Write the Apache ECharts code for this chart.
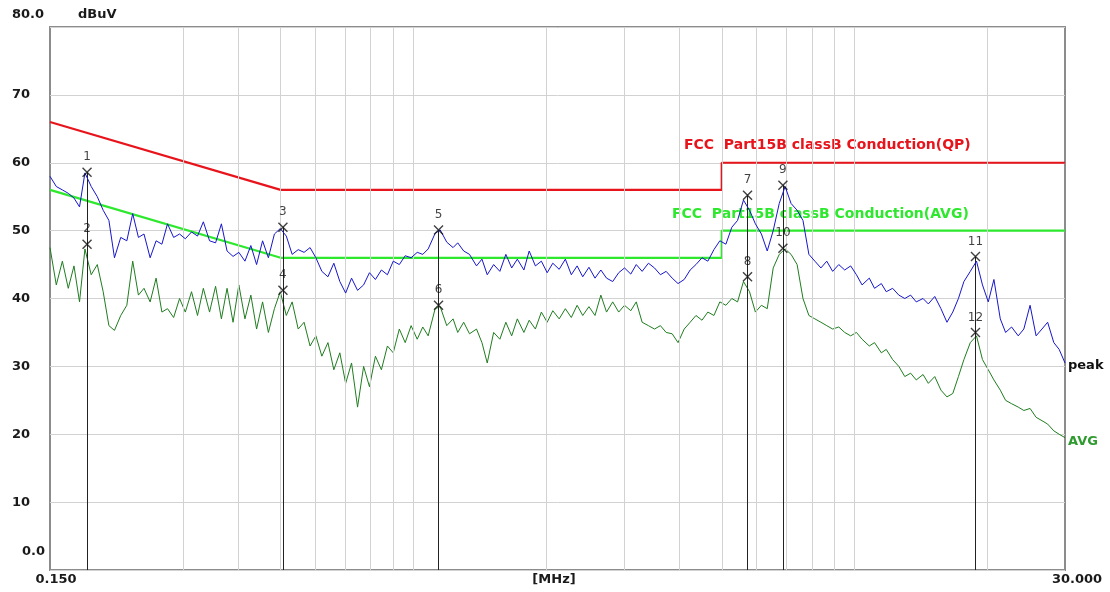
<!DOCTYPE html>
<html>
<head>
<meta charset="utf-8">
<script src="https://cdn.jsdelivr.net/npm/echarts@6/dist/echarts.min.js"></script>
<style>html,body{margin:0;padding:0;background:#fff;}#c{width:1110px;height:592px;}</style>
</head>
<body>
<div id="c"></div>
<script>
// ---- data ----
const freqs = [0.150,0.155,0.160,0.165,0.170,0.175,0.180,0.186,0.192,0.198,0.204,0.210,0.217,0.224,0.231,0.238,0.245,0.253,0.261,0.269,0.277,0.286,0.295,0.304,0.314,0.324,0.334,0.345,0.356,0.367,0.378,0.390,0.402,0.415,0.428,0.441,0.455,0.469,0.484,0.499,0.515,0.531,0.548,0.565,0.583,0.601,0.620,0.640,0.660,0.681,0.702,0.724,0.747,0.771,0.795,0.820,0.846,0.873,0.900,0.929,0.958,0.988,1.02,1.05,1.08,1.12,1.15,1.19,1.23,1.26,1.30,1.34,1.39,1.43,1.47,1.52,1.57,1.62,1.67,1.72,1.78,1.83,1.89,1.95,2.01,2.07,2.14,2.21,2.28,2.35,2.42,2.50,2.58,2.66,2.74,2.83,2.92,3.01,3.11,3.20,3.30,3.41,3.52,3.63,3.74,3.86,3.98,4.11,4.24,4.37,4.51,4.65,4.80,4.95,5.11,5.27,5.43,5.60,5.78,5.96,6.15,6.34,6.54,6.75,6.96,7.18,7.41,7.64,7.88,8.13,8.39,8.65,8.92,9.21,9.50,9.80,10.1,10.4,10.8,11.1,11.5,11.8,12.2,12.6,13.0,13.4,13.8,14.3,14.7,15.2,15.7,16.2,16.7,17.2,17.7,18.3,18.9,19.5,20.1,20.7,21.4,22.0,22.7,23.5,24.2,25.0,25.8,26.6,27.4,28.3,29.1,30.0];

const peakVals = [58.0,56.5,56.0,55.5,54.8,53.5,58.5,56.5,55.0,53.0,51.5,46.0,49.0,48.5,52.5,49.0,49.5,46.0,48.5,48.0,51.0,49.0,49.5,48.8,49.8,49.2,51.3,48.5,48.2,51.0,47.0,46.2,46.8,45.5,47.8,45.0,48.5,46.0,49.5,50.3,49.2,46.5,47.2,46.8,47.5,46.0,44.0,43.2,45.2,42.5,40.8,43.0,41.2,42.0,43.8,42.8,44.2,43.5,45.5,45.0,46.3,46.0,46.8,46.5,47.3,49.6,50.1,48.3,47.5,48.2,47.0,46.5,44.8,45.8,43.5,45.0,44.0,46.5,44.5,45.8,44.2,47.0,44.8,45.5,43.8,45.2,44.3,45.8,43.5,44.8,43.2,44.6,43.0,44.2,43.0,42.5,43.8,44.5,43.6,45.0,44.0,45.2,44.5,43.5,44.0,43.0,42.2,42.8,44.2,45.0,46.0,45.5,47.2,48.5,48.0,50.5,51.5,54.5,53.0,51.0,49.5,47.0,50.0,54.0,56.5,54.0,53.0,51.5,46.5,45.5,44.5,45.5,44.0,45.0,44.2,44.8,43.5,42.0,43.0,41.5,42.2,41.0,41.5,40.5,40.0,40.5,39.5,40.0,39.2,40.3,38.5,36.5,38.0,40.0,42.5,44.0,45.5,42.0,39.5,42.8,37.0,35.0,35.8,34.5,35.5,39.0,34.5,35.5,36.5,33.5,32.5,30.5];

const avgVals = [47.5,42.0,45.5,41.5,44.8,39.5,47.3,43.5,45.0,41.0,36.0,35.3,37.5,39.0,45.5,40.5,41.5,39.5,43.0,38.0,38.5,37.2,40.0,38.0,41.0,37.5,41.5,38.0,41.8,37.0,41.5,36.5,42.0,37.0,40.5,35.5,39.5,35.0,38.5,41.0,37.5,39.5,35.5,36.5,33.0,34.5,31.5,33.5,29.5,32.0,27.5,30.5,24.0,30.0,27.0,31.5,29.5,33.0,32.0,35.5,33.5,36.0,34.0,35.8,34.5,38.5,38.8,36.0,37.0,35.0,36.5,34.8,35.5,33.5,30.5,35.0,34.0,36.5,34.5,37.0,35.0,36.8,35.5,38.0,36.5,38.2,37.0,38.5,37.2,39.0,37.5,38.8,37.5,40.5,38.0,39.5,38.0,39.0,38.2,39.5,36.5,36.0,35.5,36.0,35.0,34.8,33.5,35.5,36.5,37.5,36.8,38.0,37.5,39.5,39.0,40.0,39.5,42.5,41.0,38.0,39.0,38.5,44.5,46.5,47.3,46.5,45.0,40.0,37.5,37.0,36.5,36.0,35.5,35.8,35.0,34.5,35.0,34.0,33.0,33.5,32.0,32.5,31.0,30.0,28.5,29.0,28.0,28.8,27.5,28.5,26.5,25.5,26.0,28.5,31.0,33.5,34.5,31.0,29.5,28.0,26.5,25.0,24.5,24.0,23.5,23.8,22.5,22.0,21.5,20.5,20.0,19.5];

const limitFreqs = [0.15, 0.5, 5, 5, 30];
const qpLimit = [66, 56, 56, 60, 60];
const avgLimit = [56, 46, 46, 50, 50];

const markerNames = ['1','2','3','4','5','6','7','8','9','10','11','12'];
const markerFreqs = [0.182,0.182,0.506,0.506,1.14,1.14,5.72,5.72,6.88,6.88,18.8,18.8];
const markerVals = [58.6,48.0,50.5,41.2,50.1,39.0,55.2,43.2,56.7,47.4,46.2,35.0];

const gridFreqs = [0.3,0.4,0.5,0.6,0.7,0.8,0.9,1,2,3,4,5,6,7,8,9,10,20];
const yTicks = ['0.0','10','20','30','40','50','60','70','80.0'];

const qpTitle = 'FCC  Part15B classB Conduction(QP)';
const avgTitle = 'FCC  Part15B classB Conduction(AVG)';

// ---- chart ----
const zip = (xs, ys) => xs.map((x, i) => [x, ys[i]]);
const FONT = 'DejaVu Sans';
const chart = echarts.init(document.getElementById('c'), null, {renderer: 'canvas'});

const option = {
  animation: false,
  backgroundColor: '#ffffff',
  grid: {left: 50, right: 45, top: 27, bottom: 22, show: true, borderColor: '#8c8c8c', borderWidth: 2, backgroundColor: 'transparent'},
  xAxis: {
    type: 'log', logBase: 10, min: 0.15, max: 30,
    axisLine: {show: false}, axisTick: {show: false}, axisLabel: {show: false}, splitLine: {show: false}
  },
  yAxis: {
    type: 'value', min: 0, max: 80, interval: 10,
    axisLine: {show: false}, axisTick: {show: false},
    splitLine: {show: true, lineStyle: {color: '#d2d2d2', width: 1}},
    axisLabel: {
      align: 'left', margin: 38, color: '#1a1a1a', fontFamily: FONT, fontWeight: 'bold', fontSize: 13,
      formatter: v => { const t = yTicks[Math.round(v / 10)]; return (v === 0 || v === 80) ? '' : t; }
    }
  },
  series: [
    {
      name: 'grid', type: 'line', data: [], silent: true, z: 1,
      markLine: {
        silent: true, symbol: 'none', animation: false,
        label: {show: false},
        lineStyle: {color: '#d2d2d2', width: 1, type: 'solid'},
        data: gridFreqs.map(f => ({xAxis: f}))
      }
    },
    {
      name: 'QP limit', type: 'line', data: zip(limitFreqs, qpLimit), symbol: 'none', z: 3,
      lineStyle: {color: '#e8141c', width: 2.2}
    },
    {
      name: 'AVG limit', type: 'line', data: zip(limitFreqs, avgLimit), symbol: 'none', z: 3,
      lineStyle: {color: '#2ee82e', width: 2.2}
    },
    {
      name: 'AVG', type: 'line', data: zip(freqs, avgVals), symbol: 'none', z: 4,
      lineStyle: {color: '#1f7d1f', width: 1},
      endLabel: {show: true, formatter: 'AVG', color: '#2f9a2f', fontFamily: FONT, fontWeight: 'bold', fontSize: 13, distance: 3, offset: [0, 4]}
    },
    {
      name: 'peak', type: 'line', data: zip(freqs, peakVals), symbol: 'none', z: 5,
      lineStyle: {color: '#1616cc', width: 1},
      endLabel: {show: true, formatter: 'peak', color: '#111', fontFamily: FONT, fontWeight: 'bold', fontSize: 13, distance: 3, offset: [0, 3]}
    },
    {
      name: 'markers', type: 'scatter', z: 6,
      data: zip(markerFreqs, markerVals),
      symbol: 'path://M0,0L10,10M10,0L0,10', symbolSize: 9,
      itemStyle: {color: 'none', borderColor: '#111', borderWidth: 1.4},
      label: {show: true, position: 'top', distance: 2, color: '#111', fontFamily: FONT, fontSize: 12,
        formatter: p => markerNames[p.dataIndex]},
      markLine: {
        silent: true, symbol: 'none', animation: false, label: {show: false},
        lineStyle: {color: '#222', width: 1, type: 'solid'},
        data: markerFreqs.map((f, i) => [{coord: [f, markerVals[i]]}, {coord: [f, 0]}])
      }
    }
  ],
  graphic: [
    {type: 'text', x: 12, y: 15, style: {text: '80.0', fill: '#1a1a1a', fontFamily: FONT, fontWeight: 'bold', fontSize: 13, align: 'left', verticalAlign: 'middle'}},
    {type: 'text', x: 22, y: 552, style: {text: '0.0', fill: '#1a1a1a', fontFamily: FONT, fontWeight: 'bold', fontSize: 13, align: 'left', verticalAlign: 'middle'}},
    {type: 'text', x: 78, y: 15, style: {text: 'dBuV', fill: '#1a1a1a', fontFamily: FONT, fontWeight: 'bold', fontSize: 13, align: 'left', verticalAlign: 'middle'}},
    {type: 'text', x: 56, y: 580, style: {text: '0.150', fill: '#1a1a1a', fontFamily: FONT, fontWeight: 'bold', fontSize: 13, align: 'center', verticalAlign: 'middle'}},
    {type: 'text', x: 554, y: 580, style: {text: '[MHz]', fill: '#1a1a1a', fontFamily: FONT, fontWeight: 'bold', fontSize: 13, align: 'center', verticalAlign: 'middle'}},
    {type: 'text', x: 1077, y: 580, style: {text: '30.000', fill: '#1a1a1a', fontFamily: FONT, fontWeight: 'bold', fontSize: 13, align: 'center', verticalAlign: 'middle'}},
    {type: 'text', x: 684, y: 145, style: {text: qpTitle, fill: '#e8141c', fontFamily: FONT, fontWeight: 'bold', fontSize: 14, align: 'left', verticalAlign: 'middle'}},
    {type: 'text', x: 672, y: 214, style: {text: avgTitle, fill: '#2ee82e', fontFamily: FONT, fontWeight: 'bold', fontSize: 14, align: 'left', verticalAlign: 'middle'}}
  ]
};
chart.setOption(option);
</script>
</body>
</html>
